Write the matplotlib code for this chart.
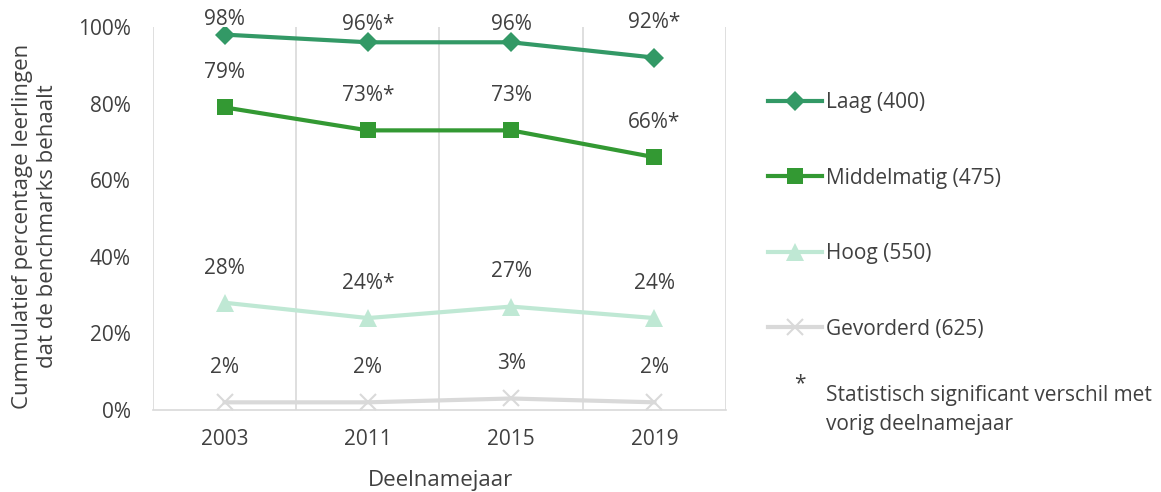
import matplotlib.pyplot as plt

plt.rcParams['font.family'] = ['Open Sans', 'DejaVu Sans']

# data
jaren = ['2003', '2011', '2015', '2019']
laag = [98, 96, 96, 92]
middelmatig = [79, 73, 73, 66]
hoog = [28, 24, 27, 24]
gevorderd = [2, 2, 3, 2]

laag_labels = ['98%', '96%*', '96%', '92%*']
middel_labels = ['79%', '73%*', '73%', '66%*']
hoog_labels = ['28%', '24%*', '27%', '24%']
gev_labels = ['2%', '2%', '3%', '2%']

txt = '#404040'
fs = 15
fig = plt.figure(figsize=(11.61, 4.92), dpi=100)
ax = fig.add_axes([0.1318, 0.1667, 0.4935, 0.7785])

x = list(range(len(jaren)))
series = [
    ('Laag (400)', laag, laag_labels, '#339966', 'D', 10.5),
    ('Middelmatig (475)', middelmatig, middel_labels, '#339933', 's', 11),
    ('Hoog (550)', hoog, hoog_labels, '#bfe8d4', '^', 12.5),
    ('Gevorderd (625)', gevorderd, gev_labels, '#d9d9d9', 'x', 11),
]
for name, vals, labs, col, mk, ms in series:
    ax.plot(x, vals, color=col, lw=3, marker=mk, ms=ms, mew=1.5 if mk == 'x' else 0,
            mec=col, label=name, zorder=3)
    for i, (v, l) in enumerate(zip(vals, labs)):
        off = 25
        if name.startswith('Laag') and i < 3:
            off = 11 if i == 0 else 13
        ax.annotate(l, (i, v), xytext=(0, off), textcoords='offset points',
                    ha='center', va='center', fontsize=fs, color=txt)

ax.set_xlim(-0.5, 3.5)
ax.set_ylim(0, 100)
ax.set_yticks([0, 20, 40, 60, 80, 100])
ax.set_yticklabels([f'{t}%' for t in [0, 20, 40, 60, 80, 100]], fontsize=fs, color=txt)
ax.set_xticks(x)
ax.set_xticklabels(jaren, fontsize=fs, color=txt)
ax.tick_params(axis='y', length=0, pad=16)
ax.tick_params(axis='x', length=0, pad=14)
for xv in [-0.5, 0.5, 1.5, 2.5, 3.5]:
    ax.axvline(xv, color='#d9d9d9', lw=1.2, zorder=1)
for s in ['top', 'right', 'left']:
    ax.spines[s].set_visible(False)
ax.spines['bottom'].set_color('#d9d9d9')
ax.spines['bottom'].set_linewidth(1.2)

ax.set_xlabel('Deelnamejaar', fontsize=16, color=txt, va='center')
ax.xaxis.set_label_coords(0.501, -0.183)
ax.set_ylabel('Cummulatief percentage leerlingen\ndat de benchmarks behaalt', fontsize=16,
              color=txt, va='center', linespacing=1.25)
ax.yaxis.set_label_coords(-0.206, 0.48)

leg = fig.legend(loc='upper left', bbox_to_anchor=(0.6615, 0.813), frameon=False,
                 fontsize=fs, labelcolor=txt, handlelength=2.6, handletextpad=0.2,
                 labelspacing=2.62, borderpad=0, borderaxespad=0)

fig.text(0.689, 0.2195, '*', fontsize=fs, color=txt, ha='center', va='center')
fig.text(0.7115, 0.1667, 'Statistisch significant verschil met\nvorig deelnamejaar',
         fontsize=fs, color=txt, ha='left', va='center', linespacing=1.45)

fig.savefig('out.png', dpi=100)
